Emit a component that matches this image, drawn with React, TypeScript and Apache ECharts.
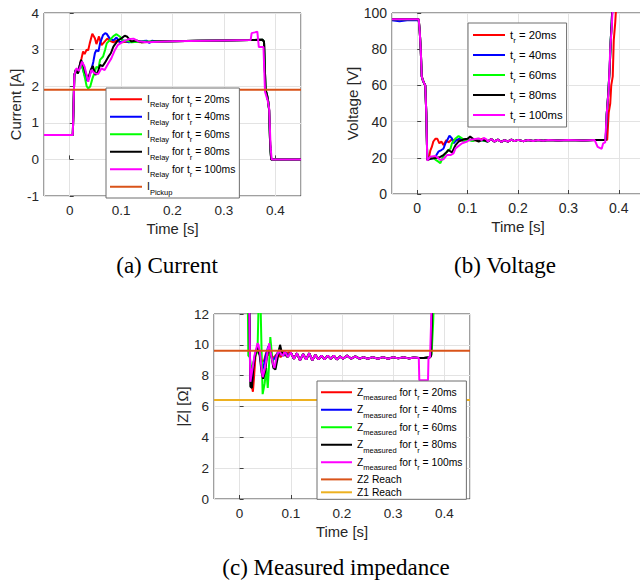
import React, { useEffect, useRef } from "react";
import * as echarts from "echarts";

// ---------------- data ----------------
const captions = ["(a) Current", "(b) Voltage", "(c) Measured impedance"];
const riseTimes = ["20ms", "40ms", "60ms", "80ms", "100ms"];
const traceColors = ["#ff0000", "#0000ff", "#00ff00", "#000000", "#ff00ff"];

const currentPickup = 1.9;
const z2Reach = 9.62;
const z1Reach = 6.42;

// Current [A]
const currentStart = [[-0.05, 0.67], [0.006, 0.67], [0.007, 1.2], [0.009, 2.3], [0.012, 2.45], [0.016, 2.35]];
const current20 = [[0.02, 2.6], [0.023, 2.76], [0.026, 2.95], [0.029, 2.88], [0.033, 3.0], [0.036, 2.98], [0.039, 3.17], [0.044, 3.43], [0.049, 3.31], [0.052, 3.15], [0.057, 3.36], [0.062, 3.12], [0.068, 3.22], [0.073, 3.3], [0.078, 3.24], [0.085, 3.2], [0.09, 3.24], [0.1, 3.2], [0.12, 3.22], [0.14, 3.2]];
const current40 = [[0.021, 2.65], [0.025, 2.5], [0.029, 2.3], [0.033, 2.15], [0.036, 2.18], [0.042, 2.44], [0.046, 2.67], [0.049, 2.9], [0.052, 2.99], [0.056, 2.95], [0.059, 3.17], [0.065, 3.4], [0.069, 3.45], [0.072, 3.43], [0.078, 3.3], [0.085, 3.25], [0.091, 3.33], [0.098, 3.2], [0.105, 3.25], [0.115, 3.2], [0.13, 3.22], [0.15, 3.24], [0.155, 3.18], [0.16, 3.24]];
const current60 = [[0.022, 2.62], [0.026, 2.45], [0.03, 2.2], [0.033, 2.0], [0.036, 1.94], [0.04, 1.99], [0.044, 2.2], [0.049, 2.4], [0.052, 2.53], [0.056, 2.5], [0.059, 2.72], [0.065, 2.81], [0.069, 3.0], [0.072, 3.17], [0.078, 3.26], [0.085, 3.37], [0.091, 3.42], [0.098, 3.35], [0.104, 3.22], [0.11, 3.25], [0.12, 3.2], [0.14, 3.22]];
const current80 = [[0.022, 2.72], [0.026, 2.6], [0.031, 2.35], [0.036, 2.2], [0.041, 2.45], [0.045, 2.55], [0.05, 2.31], [0.055, 2.4], [0.059, 2.58], [0.064, 2.55], [0.068, 2.63], [0.075, 2.8], [0.08, 2.9], [0.085, 3.08], [0.094, 3.26], [0.1, 3.3], [0.107, 3.38], [0.112, 3.35], [0.12, 3.22], [0.13, 3.25], [0.14, 3.2]];
const current100 = [[0.013, 2.49], [0.018, 2.42], [0.024, 2.67], [0.029, 2.53], [0.036, 2.12], [0.042, 2.44], [0.049, 2.35], [0.055, 2.33], [0.062, 2.49], [0.068, 2.44], [0.075, 2.62], [0.081, 2.76], [0.088, 2.99], [0.094, 3.13], [0.104, 3.22], [0.114, 3.28], [0.124, 3.3], [0.133, 3.23], [0.15, 3.2]];
const currentTail = [[0.17, 3.22], [0.2, 3.23], [0.25, 3.24], [0.3, 3.25], [0.35, 3.26], [0.375, 3.27], [0.378, 3.22], [0.381, 1.9], [0.384, 1.75], [0.386, 1.6], [0.388, 1.35], [0.39, 0.4], [0.392, 0], [0.45, 0]];
const currentTail100 = [[0.2, 3.23], [0.3, 3.25], [0.352, 3.26], [0.354, 3.45], [0.36, 3.47], [0.365, 3.49], [0.368, 3.07], [0.377, 3.07], [0.38, 1.85], [0.385, 1.62], [0.388, 1.4], [0.391, 0.3], [0.393, 0], [0.45, 0]];

// Voltage [V]
const voltageStart = [[-0.05, 96.5], [0.003, 96.5], [0.005, 90], [0.007, 80], [0.009, 65], [0.011, 63], [0.014, 61], [0.016, 60], [0.018, 45]];
const voltageStart40 = [[-0.05, 96], [-0.035, 95.5], [-0.02, 96], [0.003, 96], [0.005, 90], [0.007, 80], [0.009, 65], [0.011, 63], [0.014, 61], [0.016, 60], [0.018, 45]];
const voltage20 = [[0.02, 19], [0.023, 19.5], [0.026, 24], [0.029, 26], [0.032, 29], [0.036, 30.5], [0.04, 30.5], [0.044, 28], [0.048, 29], [0.052, 27], [0.058, 29.8], [0.062, 28.5], [0.069, 30.2], [0.075, 29.5], [0.08, 30], [0.09, 29.5], [0.1, 30], [0.12, 29.5], [0.13, 30.5]];
const voltage40 = [[0.02, 19], [0.026, 19.5], [0.032, 19.7], [0.037, 21], [0.042, 23.4], [0.048, 24.3], [0.052, 25], [0.056, 28], [0.06, 30], [0.064, 32.2], [0.069, 30.7], [0.072, 28], [0.078, 29.8], [0.085, 30.7], [0.09, 29.5], [0.1, 30.2], [0.11, 29.4], [0.12, 30.4], [0.13, 29.5]];
const voltage60 = [[0.02, 19.5], [0.025, 20], [0.03, 20.5], [0.036, 19], [0.042, 17.9], [0.046, 17], [0.05, 19.7], [0.056, 22.5], [0.062, 24.3], [0.066, 25], [0.069, 28], [0.076, 30.7], [0.082, 32], [0.089, 30.7], [0.095, 29], [0.1, 30], [0.11, 29.3], [0.12, 30.5], [0.13, 29.6]];
const voltage80 = [[0.02, 18.8], [0.026, 19.5], [0.032, 19.7], [0.04, 20], [0.046, 20.5], [0.052, 21.5], [0.058, 23], [0.062, 24.3], [0.069, 23], [0.076, 27], [0.082, 28.9], [0.092, 30.2], [0.1, 30.5], [0.105, 31.7], [0.112, 30.2], [0.122, 29], [0.13, 30]];
const voltage100 = [[0.02, 18.5], [0.026, 20.6], [0.036, 21], [0.041, 20], [0.046, 18.8], [0.052, 19.2], [0.059, 21.5], [0.066, 21.5], [0.072, 22.5], [0.076, 25.2], [0.082, 26.5], [0.089, 28], [0.099, 29], [0.105, 30], [0.112, 30.2], [0.122, 30.7], [0.128, 29.8], [0.132, 31], [0.138, 30]];
const voltageSteady = [[0.14, 29], [0.147, 30.3], [0.153, 29], [0.16, 30], [0.167, 28.8], [0.173, 29.8], [0.18, 29], [0.187, 30], [0.193, 29.2], [0.2, 29.9], [0.21, 29.2], [0.22, 29.8], [0.23, 29.3], [0.24, 29.8], [0.25, 29.4], [0.26, 29.8], [0.28, 29.5], [0.3, 29.8], [0.33, 29.6], [0.352, 29.8]];
const voltageRise = [[0.374, 29.8], [0.376, 44], [0.379, 55], [0.382, 70], [0.384, 85], [0.386, 95], [0.388, 110]];
const voltageRise20 = [[0.374, 29.8], [0.377, 30], [0.38, 45], [0.383, 50], [0.385, 60], [0.388, 65], [0.39, 85], [0.393, 95], [0.396, 110]];
const voltageRise100 = [[0.355, 28], [0.358, 26], [0.362, 25.5], [0.366, 25], [0.369, 28], [0.373, 28.5], [0.376, 44], [0.38, 58], [0.383, 80], [0.386, 92], [0.389, 110]];

// |Z| [Ohm]
const impedance20 = [[0.018, 13], [0.019, 12], [0.021, 7.8], [0.024, 7.3], [0.026, 6.96], [0.028, 7.8], [0.031, 9.3], [0.034, 9.7], [0.037, 9.5], [0.04, 9.3], [0.044, 8.9], [0.048, 9.0], [0.052, 9.5], [0.056, 9.3], [0.06, 9.7], [0.065, 9.1], [0.07, 9.3], [0.075, 9.5], [0.08, 9.2], [0.085, 9.4], [0.09, 9.3], [0.095, 9.5]];
const impedance40 = [[0.018, 13], [0.019, 12], [0.021, 7.8], [0.024, 7.5], [0.027, 8.8], [0.031, 9.5], [0.035, 9.9], [0.04, 9.3], [0.044, 8.3], [0.048, 8.8], [0.052, 9.4], [0.056, 9.9], [0.06, 9.4], [0.065, 9.0], [0.07, 9.2], [0.076, 9.6], [0.08, 9.4], [0.086, 9.3], [0.09, 9.5], [0.095, 9.3]];
const impedance60 = [[0.016, 13], [0.017, 9.3], [0.02, 9.2], [0.022, 8.5], [0.025, 8.6], [0.03, 9.2], [0.035, 9.6], [0.037, 12.5], [0.041, 12.5], [0.043, 9.5], [0.045, 6.8], [0.049, 7.5], [0.052, 8.5], [0.055, 7.2], [0.058, 9.0], [0.06, 10.5], [0.063, 9.4], [0.066, 8.6], [0.07, 8.5], [0.073, 9.3], [0.078, 9.8], [0.083, 9.3], [0.088, 9.5], [0.094, 9.2]];
const impedance80 = [[0.018, 13], [0.019, 12], [0.021, 7.3], [0.024, 7.2], [0.027, 8.6], [0.031, 9.4], [0.035, 9.8], [0.039, 9.4], [0.043, 8.2], [0.046, 7.8], [0.05, 8.3], [0.054, 9.4], [0.058, 9.8], [0.062, 9.3], [0.066, 8.5], [0.07, 8.4], [0.074, 9.1], [0.079, 10.0], [0.083, 9.4], [0.088, 9.6], [0.093, 9.2], [0.098, 9.4]];
const impedance100 = [[0.018, 13], [0.019, 12], [0.021, 7.6], [0.023, 8.0], [0.026, 8.6], [0.029, 9.3], [0.032, 9.66], [0.035, 10.1], [0.037, 10.0], [0.04, 9.45], [0.043, 8.4], [0.045, 7.9], [0.049, 8.4], [0.052, 9.0], [0.055, 9.66], [0.058, 10.1], [0.061, 9.4], [0.065, 8.8], [0.068, 8.5], [0.072, 9.2], [0.077, 9.66], [0.081, 9.4], [0.085, 9.3], [0.088, 9.6], [0.094, 9.2]];
const impedanceSteady = [[0.1, 9.5], [0.106, 9.1], [0.112, 9.45], [0.118, 9.0], [0.124, 9.4], [0.13, 9.05], [0.136, 9.45], [0.142, 9.0], [0.148, 9.35], [0.154, 9.05], [0.16, 9.3], [0.166, 9.05], [0.172, 9.3], [0.178, 9.1], [0.184, 9.3], [0.19, 9.05], [0.196, 9.25], [0.202, 9.1], [0.21, 9.3], [0.218, 9.1], [0.226, 9.25], [0.234, 9.1], [0.242, 9.2], [0.25, 9.1], [0.26, 9.2], [0.27, 9.1], [0.28, 9.2], [0.29, 9.1], [0.3, 9.2], [0.31, 9.12], [0.32, 9.2], [0.33, 9.12], [0.34, 9.18], [0.35, 9.15]];
const impedanceEnd = [[0.36, 9.15], [0.372, 9.2], [0.374, 9.3], [0.376, 12.5]];
const impedanceEnd60 = [[0.36, 9.15], [0.372, 9.2], [0.375, 9.4], [0.378, 11.4], [0.379, 12.5]];
const impedanceEnd100 = [[0.351, 7.7], [0.368, 7.7], [0.369, 9.2], [0.372, 9.2], [0.375, 12.5]];

// ---------------- styling ----------------
const SANS = "'Liberation Sans', Arial, Helvetica, sans-serif";
const SERIF = "'Liberation Serif', 'Times New Roman', serif";
const AX = "#404040";
const TXT = "#262626";
const GRIDC = "#e3e3e3";

const gridRects = [
  { left: 44, top: 13, width: 257, height: 183 },
  { left: 392, top: 13, width: 252, height: 181 },
  { left: 214, top: 314, width: 256, height: 185 },
];

function richFor(fs: number, sub: number, pad: number) {
  return {
    n: { fontSize: fs, lineHeight: 14, color: "#000", fontFamily: SANS },
    s: { fontSize: sub, lineHeight: 14, padding: [pad, 0, 0, 0], color: "#000", fontFamily: SANS },
    pa: {
      fontSize: fs,
      padding: [3.9, 0, 3.9, 0],
      backgroundColor: "rgba(255,255,255,0)",
      color: "#000",
      fontFamily: SANS,
    },
    pb: { fontSize: fs, color: "#000", fontFamily: SANS },
  };
}

export default function App() {
  const ref = useRef<HTMLDivElement>(null);
  useEffect(() => {
    if (!ref.current) return;
    const chart = echarts.init(ref.current, null, { renderer: "svg" });

    const mkLine = (name: string, data: number[][], color: string, idx: number) => ({
      type: "line",
      name,
      data,
      xAxisIndex: idx,
      yAxisIndex: idx,
      showSymbol: false,
      symbol: "none",
      color,
      lineStyle: { color, width: 2 },
      clip: true,
      silent: true,
      animation: false,
    });

    const curTrans = [current20, current40, current60, current80, current100];
    const volTrans = [voltage20, voltage40, voltage60, voltage80, voltage100];
    const zTrans = [impedance20, impedance40, impedance60, impedance80, impedance100];

    const series: any[] = [];
    riseTimes.forEach((rt, i) => {
      const d = i === 4
        ? [...currentStart.slice(0, 4), ...curTrans[i], ...currentTail100]
        : [...currentStart, ...curTrans[i], ...currentTail];
      series.push(mkLine("I" + rt, d, traceColors[i], 0));
    });
    series.push(mkLine("IPickup", [[-0.05, currentPickup], [0.45, currentPickup]], "#d95319", 0));

    riseTimes.forEach((rt, i) => {
      const start = i === 1 ? voltageStart40 : voltageStart;
      const end = i === 0 ? voltageRise20 : i === 4 ? voltageRise100 : voltageRise;
      series.push(mkLine("V" + rt, [...start, ...volTrans[i], ...voltageSteady, ...end], traceColors[i], 1));
    });

    riseTimes.forEach((rt, i) => {
      const end = i === 2 ? impedanceEnd60 : i === 4 ? impedanceEnd100 : impedanceEnd;
      series.push(mkLine("Z" + rt, [...zTrans[i], ...impedanceSteady, ...end], traceColors[i], 2));
    });
    series.push(mkLine("Z2", [[-0.05, z2Reach], [0.45, z2Reach]], "#d95319", 2));
    series.push(mkLine("Z1", [[-0.05, z1Reach], [0.45, z1Reach]], "#edb120", 2));

    const tickFs = [13.5, 14, 13.5];
    const nameFs = [14.8, 15.2, 14.8];
    const yNames = ["Current [A]", "Voltage [V]", "|Z| [\u03a9]"];
    const yRanges = [[-1, 4, 1], [0, 100, 20], [0, 12, 2]];
    const yGaps = [20, 29, 21];

    const xAxis = gridRects.map((_, i) => ({
      type: "value",
      gridIndex: i,
      min: -0.05,
      max: 0.45,
      splitNumber: 5,
      axisLine: { show: false },
      axisTick: { show: true, inside: true, length: 4, lineStyle: { color: AX } },
      axisLabel: { margin: 7, fontSize: tickFs[i], color: TXT, fontFamily: SANS, showMinLabel: false, showMaxLabel: false },
      splitLine: { show: true, lineStyle: { color: GRIDC, width: 1 } },
      name: "Time [s]",
      nameLocation: "middle",
      nameGap: 25,
      nameTextStyle: { fontSize: nameFs[i], color: TXT, fontFamily: SANS },
    }));

    const yAxis = gridRects.map((_, i) => ({
      type: "value",
      gridIndex: i,
      min: yRanges[i][0],
      max: yRanges[i][1],
      interval: yRanges[i][2],
      axisLine: { show: false },
      axisTick: { show: true, inside: true, length: 4, lineStyle: { color: AX } },
      axisLabel: { margin: 5, fontSize: tickFs[i], color: TXT, fontFamily: SANS },
      splitLine: { show: true, lineStyle: { color: GRIDC, width: 1 } },
      name: yNames[i],
      nameLocation: "middle",
      nameGap: yGaps[i],
      nameTextStyle: { fontSize: nameFs[i], color: TXT, fontFamily: SANS },
    }));

    const legendBase = {
      orient: "vertical",
      selectedMode: false,
      icon: "rect",
      itemHeight: 2,
      backgroundColor: "#ffffff",
      borderColor: "#6e6e6e",
      borderWidth: 1,
      borderRadius: 0,
    };

    const option: any = {
      animation: false,
      textStyle: { fontFamily: SANS },
      grid: gridRects.map((g) => ({
        ...g,
        containLabel: false,
        outerBoundsMode: "none",
        show: true,
        borderColor: AX,
        borderWidth: 1,
        backgroundColor: "transparent",
      })),
      xAxis,
      yAxis,
      legend: [
        {
          ...legendBase,
          left: 106,
          top: 88,
          padding: [2, 4, 2, 4],
          itemWidth: 32,
          itemGap: -1,
          data: [...riseTimes.map((r) => "I" + r), "IPickup"],
          formatter: (name: string) =>
            name === "IPickup"
              ? "{n|I}{s|Pickup}"
              : "{n|I}{s|Relay}{n| for t}{s|r}{n| = " + name.slice(1) + "}",
          textStyle: { rich: richFor(10.4, 7.5, 10.5) },
        },
        {
          ...legendBase,
          left: 468,
          top: 23,
          padding: [3, 4, 3, 5],
          itemWidth: 32,
          itemGap: 2,
          data: riseTimes.map((r) => "V" + r),
          formatter: (name: string) => "{n|t}{s|r}{n| = " + name.slice(1) + "}",
          textStyle: { rich: richFor(11.3, 8, 10) },
        },
        {
          ...legendBase,
          left: 317,
          top: 381,
          padding: [2, 4, 2, 4],
          itemWidth: 31,
          itemGap: -1,
          data: [...riseTimes.map((r) => "Z" + r), "Z2", "Z1"],
          formatter: (name: string) =>
            name === "Z2"
              ? "{pa|Z2 Reach}"
              : name === "Z1"
              ? "{pb|Z1 Reach}"
              : "{n|Z}{s|measured}{n| for t}{s|r}{n| = " + name.slice(1) + "}",
          textStyle: { rich: richFor(10.3, 7.5, 10.5) },
        },
      ],
      graphic: [
        { x: 167, y: 265, text: captions[0] },
        { x: 505, y: 265, text: captions[1] },
        { x: 336, y: 567, text: captions[2] },
      ].map((c) => ({
        type: "text",
        x: c.x,
        y: c.y,
        silent: true,
        style: {
          text: c.text,
          fill: "#000",
          font: "23px " + SERIF,
          fontSize: 23,
          fontFamily: SERIF,
          align: "center",
          verticalAlign: "middle",
        },
      })),
      series,
    };

    chart.setOption(option);
    return () => chart.dispose();
  }, []);

  return (
    <div
      ref={ref}
      style={{ position: "absolute", left: 0, top: 0, width: 640, height: 583, background: "#fff" }}
    />
  );
}
